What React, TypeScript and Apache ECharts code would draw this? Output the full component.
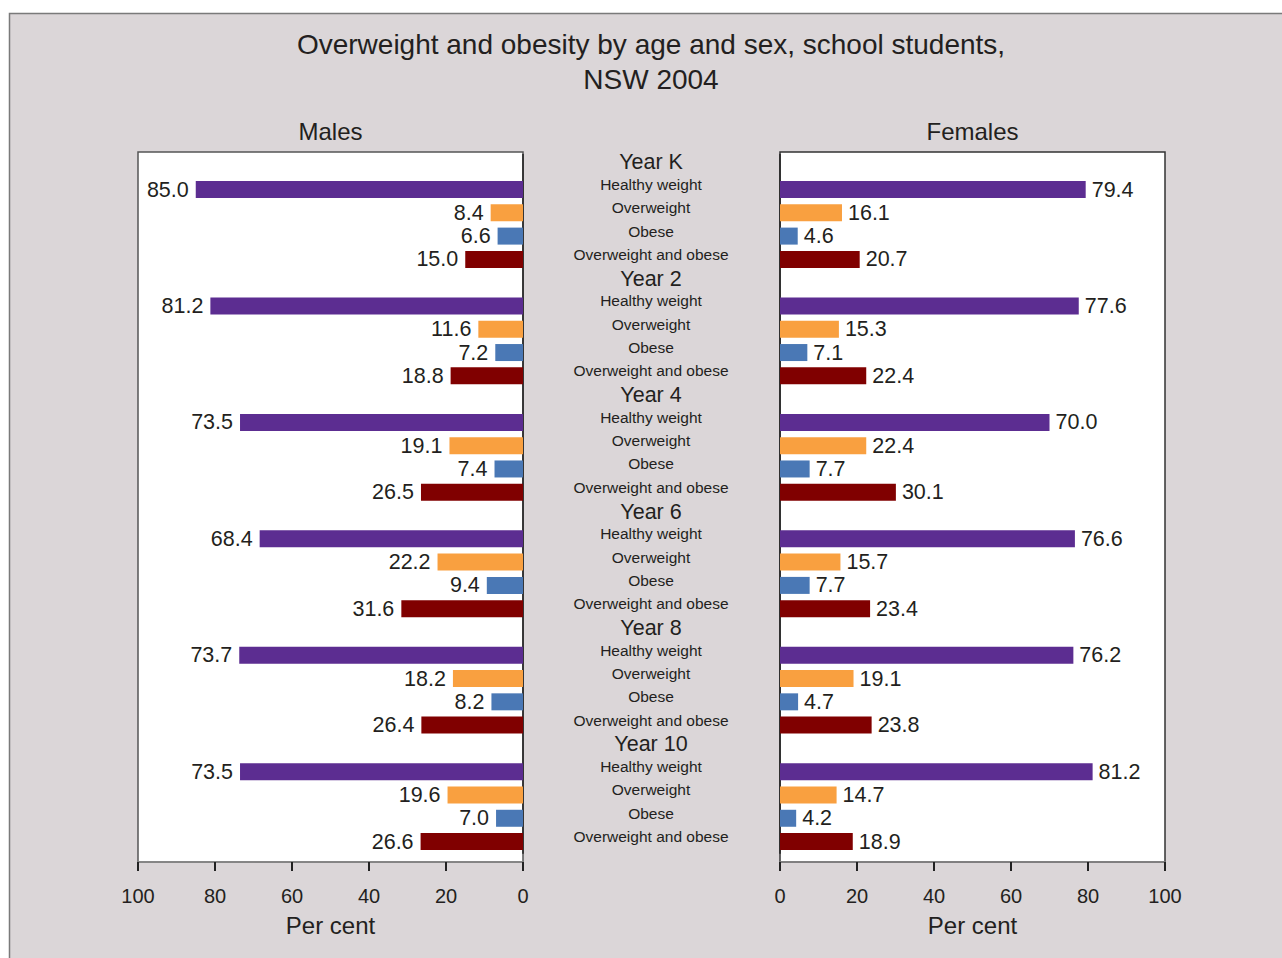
import React, { useEffect, useRef } from "react";
import * as echarts from "echarts";

const years = ["Year K", "Year 2", "Year 4", "Year 6", "Year 8", "Year 10"];
const measures = ["Healthy weight", "Overweight", "Obese", "Overweight and obese"];
const measureColors = ["#5c2d91", "#f9a040", "#4a78b5", "#800000"];

const malesHealthy = [85.0, 81.2, 73.5, 68.4, 73.7, 73.5];
const malesOverweight = [8.4, 11.6, 19.1, 22.2, 18.2, 19.6];
const malesObese = [6.6, 7.2, 7.4, 9.4, 8.2, 7.0];
const malesOwOb = [15.0, 18.8, 26.5, 31.6, 26.4, 26.6];

const femalesHealthy = [79.4, 77.6, 70.0, 76.6, 76.2, 81.2];
const femalesOverweight = [16.1, 15.3, 22.4, 15.7, 19.1, 14.7];
const femalesObese = [4.6, 7.1, 7.7, 7.7, 4.7, 4.2];
const femalesOwOb = [20.7, 22.4, 30.1, 23.4, 23.8, 18.9];

const xTicks = [0, 20, 40, 60, 80, 100];

const FONT = "Liberation Sans, Arial, Helvetica, sans-serif";
const TXT = "#231f20";

// rows: for each year, a header row then the 4 measures
const rowLabels: { text: string; isYear: boolean }[] = [];
years.forEach((y) => {
  rowLabels.push({ text: y, isYear: true });
  measures.forEach((m) => rowLabels.push({ text: m, isYear: false }));
});
const categories = rowLabels.map((_, i) => String(i));

function buildRows(sets: number[][]) {
  const out: any[] = [];
  years.forEach((_, yi) => {
    out.push("-");
    sets.forEach((s, mi) => {
      out.push({ value: s[yi], itemStyle: { color: measureColors[mi] } });
    });
  });
  return out;
}

const maleRows = buildRows([malesHealthy, malesOverweight, malesObese, malesOwOb]);
const femaleRows = buildRows([femalesHealthy, femalesOverweight, femalesObese, femalesOwOb]);

const GRID_TOP = 154.6;
const GRID_H = 698.6;
const AXIS_Y = 862;
const FRAME_TOP = 152;

export default function App() {
  const ref = useRef<HTMLDivElement>(null);
  useEffect(() => {
    if (!ref.current) return;
    const chart = echarts.init(ref.current, undefined, { renderer: "svg" });
    const offset = AXIS_Y - (GRID_TOP + GRID_H);
    const xAxisCommon = (inverse: boolean, gridIndex: number) => ({
      type: "value",
      gridIndex,
      min: 0,
      max: 100,
      interval: 20,
      inverse,
      offset,
      axisLine: { show: true, lineStyle: { color: "#8a8a8a", width: 1.5 } },
      axisTick: { show: true, length: 9, lineStyle: { color: "#222", width: 2 } },
      axisLabel: {
        fontSize: 20,
        color: TXT,
        fontFamily: FONT,
        margin: 24,
        customValues: xTicks,
      },
      splitLine: { show: false },
      name: "Per cent",
      nameLocation: "middle",
      nameGap: 51,
      nameTextStyle: { fontSize: 24, color: TXT, fontFamily: FONT },
    });
    const option: any = {
      animation: false,
      backgroundColor: "#ffffff",
      graphic: [
        {
          type: "rect",
          z: -10,
          shape: { x: 9.5, y: 13.5, width: 1300, height: 1000 },
          style: { fill: "#dbd6d8", stroke: "#7a7a7a", lineWidth: 1.5 },
        },
        {
          type: "rect",
          z: -5,
          shape: { x: 138, y: FRAME_TOP, width: 385, height: AXIS_Y - FRAME_TOP },
          style: { fill: "#ffffff", stroke: "#555", lineWidth: 1.5 },
        },
        {
          type: "rect",
          z: -5,
          shape: { x: 780, y: FRAME_TOP, width: 385, height: AXIS_Y - FRAME_TOP },
          style: { fill: "#ffffff", stroke: "#333", lineWidth: 1.5 },
        },
        {
          type: "text",
          x: 651,
          y: 44,
          style: {
            text: "Overweight and obesity by age and sex, school students,",
            align: "center",
            verticalAlign: "middle",
            fontSize: 28,
            fontFamily: FONT,
            fill: TXT,
          },
        },
        {
          type: "text",
          x: 651,
          y: 79,
          style: {
            text: "NSW 2004",
            align: "center",
            verticalAlign: "middle",
            fontSize: 28,
            fontFamily: FONT,
            fill: TXT,
          },
        },
        {
          type: "text",
          x: 330.5,
          y: 131,
          style: {
            text: "Males",
            align: "center",
            verticalAlign: "middle",
            fontSize: 24,
            fontFamily: FONT,
            fill: TXT,
          },
        },
        {
          type: "text",
          x: 972.5,
          y: 131,
          style: {
            text: "Females",
            align: "center",
            verticalAlign: "middle",
            fontSize: 24,
            fontFamily: FONT,
            fill: TXT,
          },
        },
      ],
      grid: [
        { left: 138, width: 385, top: GRID_TOP, height: GRID_H, containLabel: false },
        { left: 780, width: 385, top: GRID_TOP, height: GRID_H, containLabel: false },
      ],
      xAxis: [xAxisCommon(true, 0), xAxisCommon(false, 1)],
      yAxis: [
        {
          type: "category",
          gridIndex: 0,
          data: categories,
          inverse: true,
          position: "right",
          axisLine: { show: true, lineStyle: { color: "#222", width: 1.5 } },
          axisTick: { show: false },
          axisLabel: {
            interval: 0,
            margin: 128,
            align: "center",
            formatter: (_v: string, i: number) => {
              const r = rowLabels[i];
              return r.isYear ? `{y|${r.text}}` : `{c|${r.text}}`;
            },
            rich: {
              y: { fontSize: 21.5, color: TXT, fontFamily: FONT, padding: [0, 0, 8, 0] },
              c: { fontSize: 15.5, color: TXT, fontFamily: FONT, padding: [0, 0, 10, 0] },
            },
          },
          splitLine: { show: false },
        },
        {
          type: "category",
          gridIndex: 1,
          data: categories,
          inverse: true,
          position: "left",
          axisLine: { show: true, lineStyle: { color: "#222", width: 1.5 } },
          axisTick: { show: false },
          axisLabel: { show: false },
          splitLine: { show: false },
        },
      ],
      series: [
        {
          type: "bar",
          name: "Males",
          xAxisIndex: 0,
          yAxisIndex: 0,
          data: maleRows,
          barWidth: 17,
          label: {
            show: true,
            position: "left",
            distance: 7,
            fontSize: 21.5,
            color: TXT,
            fontFamily: FONT,
            formatter: (p: any) => Number(p.value).toFixed(1),
          },
        },
        {
          type: "bar",
          name: "Females",
          xAxisIndex: 1,
          yAxisIndex: 1,
          data: femaleRows,
          barWidth: 17,
          label: {
            show: true,
            position: "right",
            distance: 6,
            fontSize: 21.5,
            color: TXT,
            fontFamily: FONT,
            formatter: (p: any) => Number(p.value).toFixed(1),
          },
        },
      ],
    };
    chart.setOption(option);
    return () => chart.dispose();
  }, []);
  return (
    <div
      ref={ref}
      style={{ position: "fixed", left: 0, top: 0, width: 1282, height: 958 }}
    />
  );
}
